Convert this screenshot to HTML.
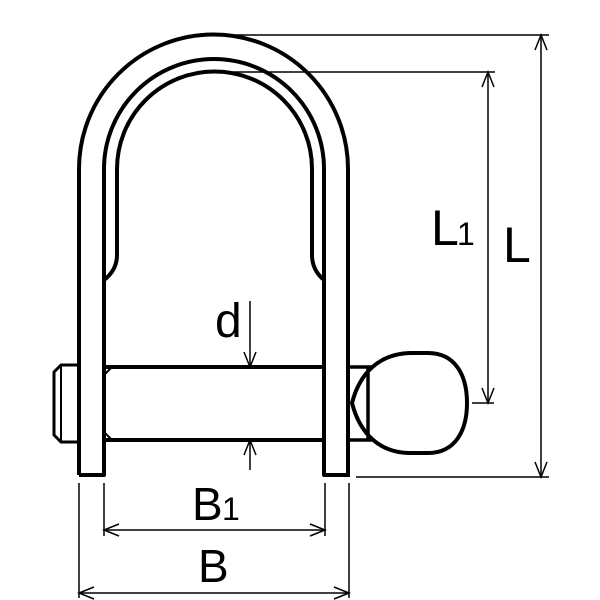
<!DOCTYPE html>
<html><head><style>body{margin:0;background:#fff}svg{display:block}text{font-family:"Liberation Sans",sans-serif;fill:#000}</style></head>
<body>
<svg width="600" height="600" viewBox="0 0 600 600">
<g fill="none" stroke="#000" stroke-width="4" stroke-linejoin="round">
<!-- outer U -->
<path d="M79,475 L79,169 A134.5,134.5 0 0 1 348,169 L348,475"/>
<path d="M79,475 L104,475 L104,169 A110,110 0 0 1 324,169 L324,475 L350,475"/>
<!-- inner arc -->
<path d="M104,280 Q117,270 117,255 L117,169 A97.5,97.5 0 0 1 312,169 L312,255 Q312,270 324,280"/>
<!-- pin -->
<path d="M104,367 L324,367 M104,440 L324,440"/>
<path d="M104,375 L112,367 M104,432 L112,440" stroke-width="2"/>
<!-- threaded end -->
<path d="M79,365 L61,365 L54,372 L54,435 L61,442 L79,442" stroke-width="3"/>
<path d="M61,365 L61,442" stroke-width="2"/>
<!-- right pin -->
<path d="M350,367 L372,367 M350,440 L372,440 M368,367 L368,440" stroke-width="3.5"/>
<path d="M352,403 C360,372 380,354 410,353 L428,353 C455,353 467,375 467,403 C467,431 455,453 428,453 L410,453 C380,453 360,434 352,403 Z"/>
</g>
<g fill="none" stroke="#000" stroke-width="1.5">
<!-- L -->
<path d="M214,35 L549,35 M356,477 L549,477 M541,35 L541,477"/>
<path d="M535,50 L541,35 L547,50 M535,462 L541,477 L547,462"/>
<!-- L1 -->
<path d="M214,72 L495,72 M472,403 L494,403 M488,72 L488,403"/>
<path d="M482,87 L488,72 L494,87 M482,388 L488,403 L494,388"/>
<!-- d -->
<path d="M250,301 L250,367 M250,440 L250,470"/>
<path d="M244,352 L250,367 L256,352 M244,455 L250,440 L256,455"/>
<!-- B1 -->
<path d="M104,483 L104,536 M325,483 L325,536 M104,530 L325,530"/>
<path d="M119,524 L104,530 L119,536 M310,524 L325,530 L310,536"/>
<!-- B -->
<path d="M79,483 L79,598 M349,483 L349,598 M79,593 L349,593"/>
<path d="M94,587 L79,593 L94,599 M334,587 L349,593 L334,599"/>
</g>
<text x="431" y="245" font-size="50">L</text>
<text x="457" y="245" font-size="32">1</text>
<text x="503" y="262" font-size="50">L</text>
<text x="215" y="337" font-size="48">d</text>
<text x="192" y="520" font-size="46">B</text>
<text x="222" y="520" font-size="32">1</text>
<text x="198" y="582" font-size="46">B</text>
</svg>
</body></html>
